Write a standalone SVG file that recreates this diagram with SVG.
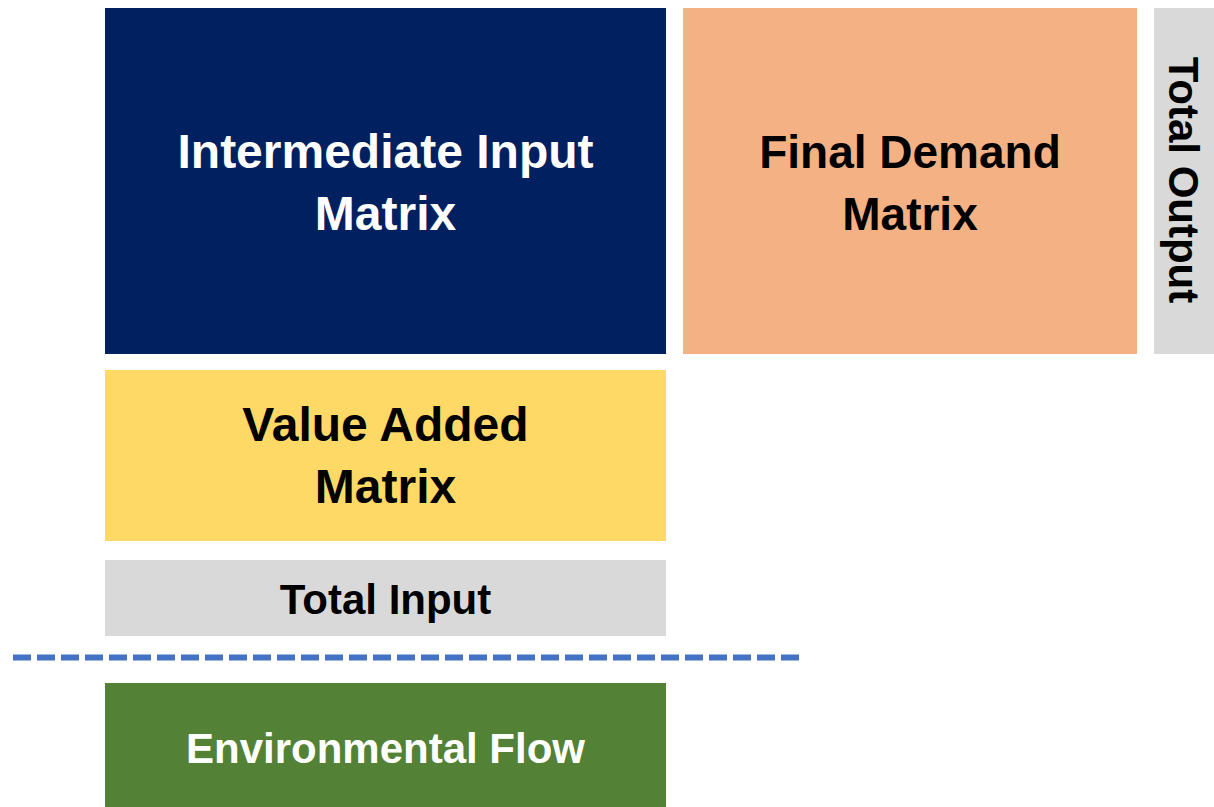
<svg xmlns="http://www.w3.org/2000/svg" width="1214" height="807" viewBox="0 0 1214 807">
<style>
text{font-family:"Liberation Sans",Arial,sans-serif;font-weight:bold;text-anchor:middle}
.big{font-size:48px}
.mid{font-size:46px}
.small{font-size:42px}
.w{fill:#ffffff}
.k{fill:#000000}
</style>
<rect width="1214" height="807" fill="#ffffff"/>
<g id="intermediate">
<rect x="105" y="8" width="561" height="346" fill="#002060"/>
<text class="big w" x="385.5" y="168">Intermediate Input</text>
<text class="big w" x="385.5" y="230">Matrix</text>
</g>
<g id="final-demand">
<rect x="683" y="8" width="454" height="346" fill="#F4B183"/>
<text class="mid k" x="910" y="168">Final Demand</text>
<text class="mid k" x="910" y="230">Matrix</text>
</g>
<g id="total-output">
<rect x="1154" y="8" width="60" height="346" fill="#D9D9D9"/>
<text class="small k" transform="translate(1169,180) rotate(90)">Total Output</text>
</g>
<g id="value-added">
<rect x="105" y="370" width="561" height="171" fill="#FFD966"/>
<text class="big k" x="385.5" y="441">Value Added</text>
<text class="big k" x="385.5" y="503">Matrix</text>
</g>
<g id="total-input">
<rect x="105" y="560" width="561" height="76" fill="#D9D9D9"/>
<text class="small k" x="385.5" y="614">Total Input</text>
</g>
<g id="connectors">
<line x1="13" y1="657.5" x2="800" y2="657.5" stroke="#4472C4" stroke-width="6" stroke-dasharray="18 6"/>
</g>
<g id="environmental-flow">
<rect x="105" y="683" width="561" height="124" fill="#538135"/>
<text class="small w" x="385.5" y="763">Environmental Flow</text>
</g>
</svg>
